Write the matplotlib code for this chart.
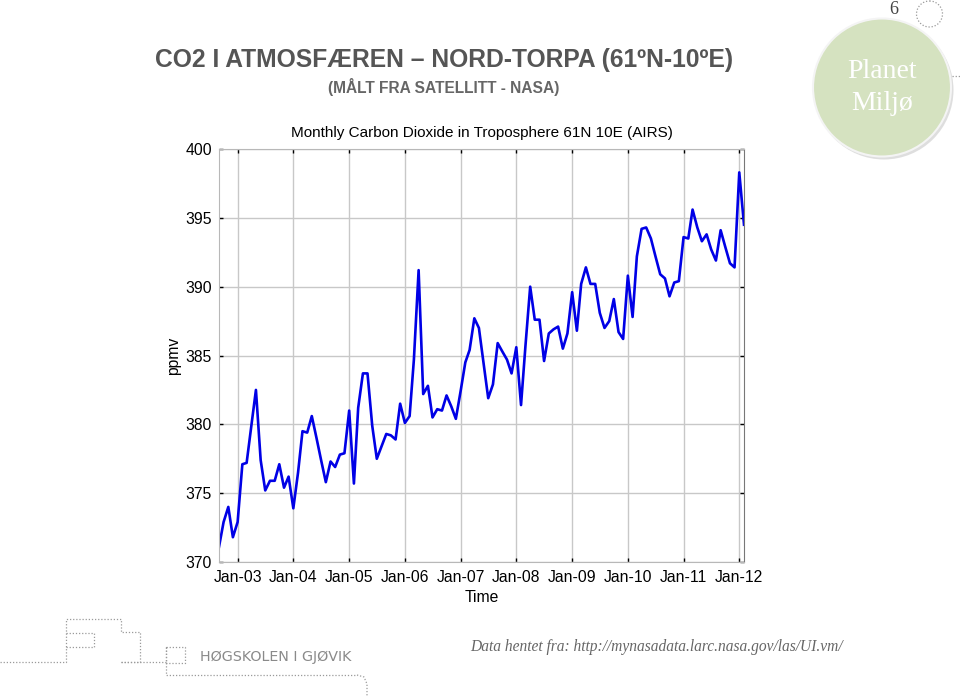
import pandas as pd
import matplotlib
matplotlib.use("Agg")
import matplotlib.pyplot as plt
import matplotlib.dates as mdates
from matplotlib.patches import Circle

# Månedlige CO2-verdier (ppmv), sep 2002 - feb 2012
start_month = "2002-09-01"
co2_ppmv = [
    371.1, 372.9, 374.0, 371.8,
    372.9, 377.1, 377.2, 379.9, 382.5, 377.4, 375.2, 375.9, 375.9, 377.1, 375.4, 376.2,
    373.9, 376.5, 379.5, 379.4, 380.6, 379.0, 377.4, 375.8, 377.3, 376.9, 377.8, 377.9,
    381.0, 375.7, 381.2, 383.7, 383.7, 379.9, 377.5, 378.4, 379.3, 379.2, 378.9, 381.5,
    380.1, 380.6, 384.7, 391.2, 382.2, 382.8, 380.5, 381.1, 381.0, 382.1, 381.3, 380.4,
    382.4, 384.5, 385.4, 387.7, 387.0, 384.4, 381.9, 382.9, 385.9, 385.3, 384.7, 383.7,
    385.6, 381.4, 385.7, 390.0, 387.6, 387.6, 384.6, 386.6, 386.9, 387.1, 385.5, 386.6,
    389.6, 386.8, 390.2, 391.4, 390.2, 390.2, 388.1, 387.0, 387.5, 389.1, 386.7, 386.2,
    390.8, 387.8, 392.2, 394.2, 394.3, 393.5, 392.2, 390.9, 390.6, 389.3, 390.3, 390.4,
    393.6, 393.5, 395.6, 394.3, 393.3, 393.8, 392.7, 391.9, 394.1, 392.9, 391.7, 391.4,
    398.3, 394.5,
]
months = pd.date_range(start_month, periods=len(co2_ppmv), freq="MS")
y_ticks = [370, 375, 380, 385, 390, 395, 400]

tick_fontsize = 11.3
sans = ["Liberation Sans", "DejaVu Sans"]
serif = ["Liberation Serif", "DejaVu Serif"]

fig = plt.figure(figsize=(9.6, 6.97), dpi=100)

# Bakgrunnsakse i piksler for pynt (logo, stiplede linjer)
bg = fig.add_axes([0, 0, 1, 1])
bg.set_xlim(0, 960)
bg.set_ylim(697, 0)
bg.axis("off")

dot = dict(color="#9a9a9a", lw=0.9, ls=(0, (1, 1.5)))
bg.plot([0, 66, 66, 121, 121, 140, 140, 121], [662, 662, 619, 619, 632, 632, 662, 662], **dot)
bg.plot([66, 94, 94, 66], [633, 633, 647, 647], **dot)
bg.plot([121, 166], [662, 662], **dot)
bg.plot([166, 185, 185, 166, 166], [647, 647, 663, 663, 647], **dot)
bg.plot([166, 166, 357], [647, 675, 675], **dot)
bg.plot([357, 364, 367, 367], [675, 677, 684, 697], **dot)
bg.plot([952, 960], [76, 76], **dot)
bg.add_patch(Circle((929.5, 14), 13, fill=False, ec="#9a9a9a", lw=0.9, ls=(0, (1, 1.5))))

# Planet Miljø-sirkel med skygge
bg.add_patch(Circle((884, 90), 69.5, color="#c9c9c9", alpha=0.6, lw=0))
bg.add_patch(Circle((882, 87.5), 69, color="#d5e2c0", ec="#f4f4f4", lw=1.5))
bg.text(882, 72, "Planet", ha="center", va="center", color="white", fontsize=20, family=serif)
bg.text(882, 103, "Miljø", ha="center", va="center", color="white", fontsize=20, family=serif)
bg.text(894, 10, "6", ha="center", va="center", color="#444444", fontsize=13, family=serif)

# Overskrifter
bg.text(444, 60, "CO2 I ATMOSFÆREN – NORD-TORPA (61ºN-10ºE)", ha="center", va="center",
        fontsize=17.7, fontweight="bold", color="#555555", family=sans)
bg.text(444, 87, "(MÅLT FRA SATELLITT - NASA)", ha="center", va="center",
        fontsize=11.2, fontweight="bold", color="#666666", family=sans)

# Bunntekst
bg.text(200, 657, "HØGSKOLEN I GJØVIK", ha="left", va="center", fontsize=10.3,
        color="#8a8a8a", family=["DejaVu Sans"])
bg.text(470, 647, "Data hentet fra: http://mynasadata.larc.nasa.gov/las/UI.vm/",
        ha="left", va="center", fontsize=11.2, style="italic", color="#666666", family=serif)

# Selve grafen
ax = fig.add_axes([219 / 960, 1 - 562 / 697, (744 - 219) / 960, (562 - 149) / 697])
ax.plot(months, co2_ppmv, color="#0000e6", lw=1.9)

ax.set_xlim(months[0], months[-1])
ax.set_ylim(y_ticks[0], y_ticks[-1])
ax.set_yticks(y_ticks)
ax.xaxis.set_major_locator(mdates.YearLocator(1, month=1, day=1))
ax.xaxis.set_major_formatter(mdates.DateFormatter("%b-%y"))

ax.grid(True, color="#c8c8c8", lw=1.0)
for s in ax.spines.values():
    s.set_color("#b8b8b8")
ax.spines["right"].set_color("#777777")
ax.tick_params(axis="both", direction="in", length=3, width=1, color="black",
               top=True, right=True, labelsize=tick_fontsize)
ax.tick_params(axis="y", pad=5)
ax.tick_params(axis="x", pad=6)
for lab in ax.get_xticklabels() + ax.get_yticklabels():
    lab.set_family(sans)

ax.set_title("Monthly Carbon Dioxide in Troposphere 61N 10E (AIRS)", fontsize=11,
             pad=9, family=sans)
ax.set_xlabel("Time", fontsize=tick_fontsize, family=sans, labelpad=3)
ax.set_ylabel("ppmv", fontsize=tick_fontsize, family=sans, labelpad=3)

plt.savefig("out.png", dpi=100)
